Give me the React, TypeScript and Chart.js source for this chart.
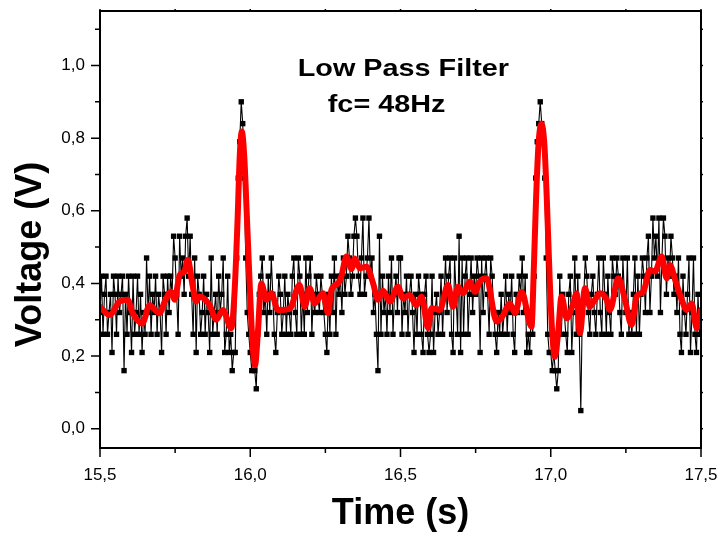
import React, { useEffect, useRef } from 'react';
import { Chart, registerables } from 'chart.js';

Chart.register(...registerables);

// Raw sampled voltage (V), one sample every SAMPLE_INTERVAL seconds from SAMPLE_START
const SAMPLE_START = 15.5;
const SAMPLE_INTERVAL = 0.005;
const rawVoltage = [
  0.32, 0.42, 0.26, 0.37, 0.42, 0.26, 0.32, 0.37, 0.21, 0.42,
  0.37, 0.26, 0.42, 0.32, 0.37, 0.42, 0.16, 0.37, 0.26, 0.42,
  0.32, 0.21, 0.42, 0.26, 0.32, 0.42, 0.26, 0.37, 0.21, 0.32,
  0.26, 0.47, 0.32, 0.42, 0.26, 0.37, 0.32, 0.42, 0.26, 0.37,
  0.32, 0.21, 0.42, 0.37, 0.26, 0.42, 0.32, 0.42, 0.37, 0.53,
  0.47, 0.37, 0.26, 0.53, 0.42, 0.47, 0.37, 0.53, 0.58, 0.42,
  0.53, 0.37, 0.26, 0.47, 0.21, 0.42, 0.37, 0.26, 0.32, 0.42,
  0.26, 0.37, 0.32, 0.21, 0.47, 0.26, 0.32, 0.37, 0.26, 0.42,
  0.32, 0.37, 0.47, 0.21, 0.26, 0.42, 0.21, 0.26, 0.16, 0.21,
  0.21, 0.47, 0.69, 0.79, 0.90, 0.84, 0.69, 0.47, 0.32, 0.26,
  0.21, 0.16, 0.21, 0.16, 0.11, 0.26, 0.37, 0.42, 0.47, 0.32,
  0.37, 0.26, 0.42, 0.32, 0.47, 0.37, 0.26, 0.21, 0.32, 0.42,
  0.37, 0.26, 0.32, 0.42, 0.26, 0.37, 0.32, 0.26, 0.42, 0.47,
  0.32, 0.26, 0.47, 0.42, 0.26, 0.37, 0.26, 0.47, 0.32, 0.42,
  0.47, 0.26, 0.37, 0.32, 0.42, 0.37, 0.32, 0.42, 0.37, 0.32,
  0.26, 0.21, 0.37, 0.26, 0.42, 0.32, 0.47, 0.26, 0.42, 0.37,
  0.42, 0.32, 0.47, 0.37, 0.42, 0.53, 0.47, 0.37, 0.42, 0.53,
  0.58, 0.53, 0.42, 0.37, 0.47, 0.58, 0.37, 0.42, 0.47, 0.58,
  0.42, 0.47, 0.32, 0.37, 0.26, 0.16, 0.53, 0.26, 0.42, 0.32,
  0.37, 0.26, 0.42, 0.32, 0.47, 0.26, 0.37, 0.42, 0.32, 0.47,
  0.47, 0.26, 0.37, 0.32, 0.42, 0.26, 0.37, 0.42, 0.32, 0.21,
  0.37, 0.26, 0.42, 0.37, 0.26, 0.21, 0.37, 0.42, 0.26, 0.21,
  0.26, 0.42, 0.21, 0.32, 0.37, 0.26, 0.32, 0.42, 0.26, 0.37,
  0.47, 0.32, 0.42, 0.47, 0.26, 0.21, 0.47, 0.37, 0.26, 0.53,
  0.21, 0.47, 0.26, 0.42, 0.47, 0.26, 0.37, 0.47, 0.32, 0.42,
  0.37, 0.47, 0.42, 0.21, 0.47, 0.32, 0.42, 0.47, 0.37, 0.26,
  0.47, 0.42, 0.32, 0.26, 0.21, 0.32, 0.26, 0.37, 0.26, 0.32,
  0.42, 0.26, 0.37, 0.32, 0.42, 0.26, 0.21, 0.37, 0.32, 0.42,
  0.37, 0.47, 0.32, 0.42, 0.21, 0.26, 0.21, 0.32, 0.26, 0.42,
  0.69, 0.79, 0.84, 0.90, 0.84, 0.79, 0.69, 0.47, 0.26, 0.21,
  0.21, 0.16, 0.21, 0.16, 0.11, 0.16, 0.42, 0.26, 0.37, 0.32,
  0.26, 0.21, 0.37, 0.42, 0.21, 0.32, 0.47, 0.26, 0.42, 0.26,
  0.05, 0.32, 0.37, 0.47, 0.42, 0.32, 0.26, 0.37, 0.42, 0.32,
  0.26, 0.37, 0.47, 0.32, 0.26, 0.47, 0.37, 0.26, 0.42, 0.32,
  0.26, 0.47, 0.42, 0.37, 0.47, 0.42, 0.32, 0.26, 0.47, 0.37,
  0.32, 0.47, 0.26, 0.32, 0.26, 0.37, 0.47, 0.26, 0.42, 0.26,
  0.37, 0.47, 0.42, 0.32, 0.47, 0.53, 0.32, 0.42, 0.58, 0.47,
  0.53, 0.42, 0.58, 0.32, 0.47, 0.58, 0.53, 0.37, 0.47, 0.42,
  0.53, 0.47, 0.37, 0.42, 0.32, 0.47, 0.26, 0.21, 0.42, 0.32,
  0.26, 0.37, 0.47, 0.21, 0.32, 0.47, 0.26, 0.21, 0.37, 0.26,
  0.32,
];

// Low-pass filtered signal (fc = 48 Hz)
const filteredTime = [
  15.500, 15.532, 15.565, 15.592, 15.608, 15.641, 15.665, 15.698, 15.715, 15.737,
  15.748, 15.765, 15.781, 15.792, 15.809, 15.820, 15.831, 15.865, 15.887, 15.909,
  15.937, 15.948, 15.958, 15.965, 15.972, 15.980, 15.988, 15.998, 16.008, 16.016,
  16.025, 16.037, 16.054, 16.070, 16.092, 16.131, 16.164, 16.181, 16.198, 16.214,
  16.242, 16.259, 16.270, 16.292, 16.303, 16.320, 16.337, 16.348, 16.364, 16.387,
  16.409, 16.425, 16.442, 16.464, 16.492, 16.508, 16.530, 16.553, 16.570, 16.592,
  16.603, 16.631, 16.658, 16.675, 16.692, 16.708, 16.731, 16.748, 16.764, 16.786,
  16.820, 16.842, 16.864, 16.881, 16.903, 16.936, 16.944, 16.951, 16.959, 16.969,
  16.979, 16.987, 16.997, 17.006, 17.014, 17.024, 17.036, 17.053, 17.075, 17.086,
  17.097, 17.114, 17.130, 17.147, 17.164, 17.186, 17.197, 17.225, 17.247, 17.269,
  17.286, 17.308, 17.330, 17.347, 17.369, 17.386, 17.397, 17.414, 17.436, 17.452,
  17.469, 17.486, 17.500,
];
const filteredVoltage = [
  0.336, 0.313, 0.350, 0.355, 0.320, 0.290, 0.340, 0.318, 0.350, 0.377,
  0.355, 0.423, 0.433, 0.465, 0.390, 0.350, 0.364, 0.340, 0.300, 0.327,
  0.277, 0.380, 0.580, 0.750, 0.818, 0.750, 0.600, 0.400, 0.230, 0.175,
  0.260, 0.400, 0.355, 0.373, 0.327, 0.330, 0.396, 0.336, 0.387, 0.345,
  0.373, 0.318, 0.382, 0.400, 0.419, 0.474, 0.440, 0.469, 0.442, 0.446,
  0.400, 0.355, 0.380, 0.350, 0.391, 0.359, 0.368, 0.340, 0.364, 0.277,
  0.332, 0.327, 0.396, 0.336, 0.391, 0.373, 0.405, 0.377, 0.405, 0.414,
  0.295, 0.313, 0.345, 0.318, 0.377, 0.281, 0.450, 0.630, 0.780, 0.840,
  0.780, 0.630, 0.400, 0.250, 0.198, 0.260, 0.364, 0.304, 0.345, 0.373,
  0.263, 0.387, 0.336, 0.355, 0.373, 0.355, 0.327, 0.414, 0.355, 0.286,
  0.364, 0.377, 0.437, 0.433, 0.474, 0.414, 0.450, 0.410, 0.355, 0.327,
  0.345, 0.277, 0.327,
];

const xTickValues = [15.5, 16.0, 16.5, 17.0, 17.5];
const xTickLabels = ['15,5', '16,0', '16,5', '17,0', '17,5'];
const xMinorTicks = [15.75, 16.25, 16.75, 17.25];
const yTickValues = [0.0, 0.2, 0.4, 0.6, 0.8, 1.0];
const yTickLabels = ['0,0', '0,2', '0,4', '0,6', '0,8', '1,0'];
const yMinorTicks = [0.1, 0.3, 0.5, 0.7, 0.9, 1.1];

const annotationLines = ['Low Pass Filter', 'fc= 48Hz'];
const annotationX = [16.158, 16.258];
const annotationY = [0.97, 0.873];

const FONT = '"Liberation Sans", Arial, sans-serif';

const framePlugin = {
  id: 'originFrame',
  afterDatasetsDraw(chart: any) {
    const { ctx, chartArea, scales } = chart;
    const { left, right, top, bottom } = chartArea;
    const xs = scales.x;
    const ys = scales.y;
    ctx.save();
    ctx.strokeStyle = '#000';
    ctx.lineWidth = 1.5;
    ctx.beginPath();
    const tick = (x1: number, y1: number, x2: number, y2: number) => {
      ctx.moveTo(x1, y1);
      ctx.lineTo(x2, y2);
    };
    xTickValues.forEach((v) => {
      const p = xs.getPixelForValue(v);
      tick(p, bottom, p, bottom + 9);
      tick(p, top, p, top - 2);
    });
    xMinorTicks.forEach((v) => {
      const p = xs.getPixelForValue(v);
      tick(p, bottom, p, bottom + 5);
      tick(p, top, p, top - 2);
    });
    yTickValues.forEach((v) => {
      const p = ys.getPixelForValue(v);
      tick(left, p, left - 9, p);
      tick(right, p, right + 2, p);
    });
    yMinorTicks.forEach((v) => {
      const p = ys.getPixelForValue(v);
      tick(left, p, left - 5, p);
      tick(right, p, right + 2, p);
    });
    ctx.stroke();
    ctx.lineWidth = 2;
    ctx.strokeRect(left, top, right - left, bottom - top);

    // annotation text
    ctx.fillStyle = '#000';
    ctx.font = `bold 24px ${FONT}`;
    ctx.textAlign = 'left';
    ctx.textBaseline = 'alphabetic';
    annotationLines.forEach((line, i) => {
      const px = xs.getPixelForValue(annotationX[i]);
      const py = ys.getPixelForValue(annotationY[i]);
      ctx.save();
      ctx.translate(px, py);
      ctx.scale(1.2, 1);
      ctx.fillText(line, 0, 0);
      ctx.restore();
    });

    // y axis title
    ctx.save();
    ctx.font = `bold 36px ${FONT}`;
    ctx.textAlign = 'center';
    ctx.textBaseline = 'middle';
    ctx.translate(31, (top + bottom) / 2 + 25);
    ctx.rotate(-Math.PI / 2);
    ctx.fillText('Voltage (V)', 0, 0);
    ctx.restore();

    ctx.restore();
  },
};

export default function App() {
  const canvasRef = useRef<HTMLCanvasElement | null>(null);

  useEffect(() => {
    if (!canvasRef.current) return;
    const rawPoints = rawVoltage.map((v, i) => ({ x: SAMPLE_START + i * SAMPLE_INTERVAL, y: v }));
    const filteredPoints = filteredTime.map((t, i) => ({ x: t, y: filteredVoltage[i] }));

    const chart = new Chart(canvasRef.current, {
      type: 'line',
      data: {
        datasets: [
          {
            label: 'Filtered',
            data: filteredPoints,
            borderColor: '#ff0000',
            borderWidth: 6,
            pointRadius: 0,
            cubicInterpolationMode: 'monotone',
            borderJoinStyle: 'round',
            borderCapStyle: 'round',
            fill: false,
          },
          {
            label: 'Raw',
            data: rawPoints,
            borderColor: '#000',
            borderWidth: 1.1,
            pointStyle: 'rect',
            pointRadius: 3.8,
            pointBackgroundColor: '#000',
            pointBorderWidth: 0,
            tension: 0,
            fill: false,
          },
        ],
      },
      options: {
        animation: false,
        responsive: false,
        devicePixelRatio: 1,
        layout: { padding: { top: 11, right: 18, left: 0, bottom: 0 } },
        plugins: { legend: { display: false }, tooltip: { enabled: false } },
        scales: {
          x: {
            type: 'linear',
            min: 15.5,
            max: 17.5,
            afterFit: (s: any) => {
              s.height = 86;
              s.paddingLeft = 0;
              s.paddingRight = 0;
            },
            afterBuildTicks: (s: any) => { s.ticks = xTickValues.map((v) => ({ value: v })); },
            grid: { display: false, drawTicks: false },
            border: { display: false },
            ticks: {
              padding: 17,
              color: '#000',
              font: { family: FONT, size: 17 },
              maxRotation: 0,
              autoSkip: false,
              callback: (_v: any, i: number) => xTickLabels[i],
            },
            title: {
              display: true,
              text: 'Time (s)',
              color: '#000',
              font: { family: FONT, size: 36, weight: 'bold', lineHeight: 1 },
              padding: { top: 0, bottom: 2 },
            },
          },
          y: {
            type: 'linear',
            min: -0.053,
            max: 1.15,
            afterFit: (s: any) => {
              s.width = 100;
              s.paddingTop = 0;
              s.paddingBottom = 0;
            },
            afterBuildTicks: (s: any) => { s.ticks = yTickValues.map((v) => ({ value: v })); },
            grid: { display: false, drawTicks: false },
            border: { display: false },
            ticks: {
              padding: 15,
              color: '#000',
              font: { family: FONT, size: 17 },
              autoSkip: false,
              callback: (_v: any, i: number) => yTickLabels[i],
            },
          },
        },
      },
      plugins: [framePlugin],
    } as any);

    return () => chart.destroy();
  }, []);

  return (
    <div style={{ position: 'absolute', left: 0, top: 0, width: 719, height: 534, background: '#fff' }}>
      <canvas ref={canvasRef} width={719} height={534} style={{ display: 'block' }} />
    </div>
  );
}
